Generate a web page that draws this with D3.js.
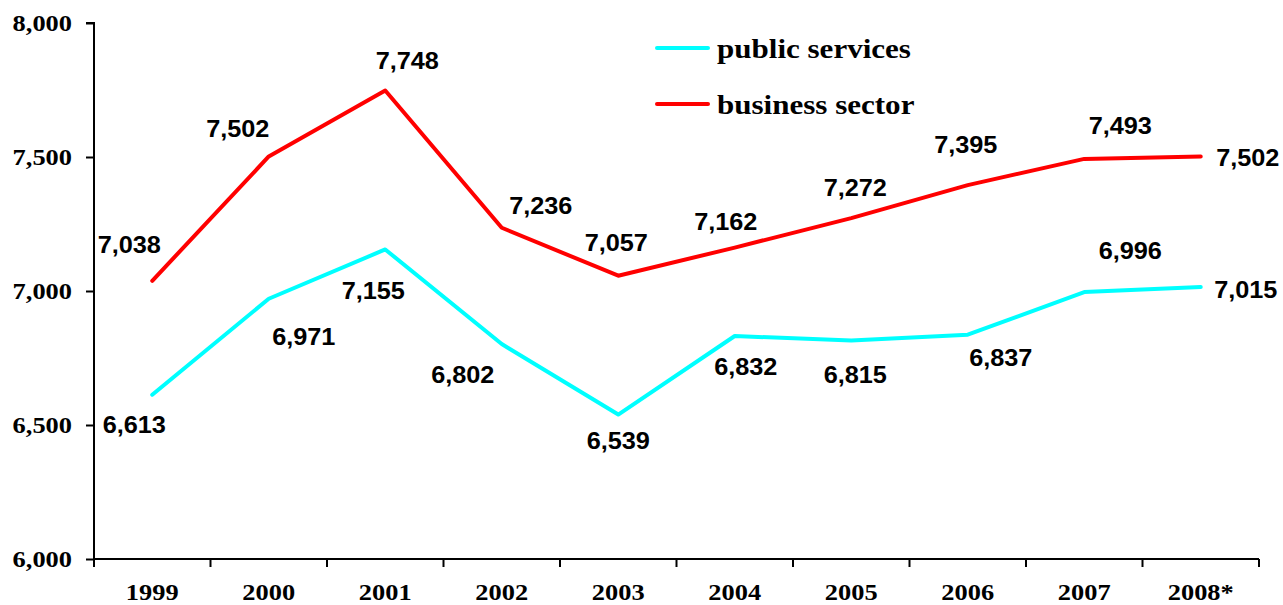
<!DOCTYPE html>
<html>
<head>
<meta charset="utf-8">
<script src="https://cdn.jsdelivr.net/npm/d3@7"></script>
<style>
  html, body { margin: 0; padding: 0; background: #fff; }
  svg { display: block; }
</style>
</head>
<body>
<svg id="chart" width="1283" height="605"></svg>
<script>
// Categories and series
const years = ["1999", "2000", "2001", "2002", "2003", "2004", "2005", "2006", "2007", "2008*"];
const publicServices = [6613, 6971, 7155, 6802, 6539, 6832, 6815, 6837, 6996, 7015];
const businessSector = [7038, 7502, 7748, 7236, 7057, 7162, 7272, 7395, 7493, 7502];
const yTicks = [6000, 6500, 7000, 7500, 8000];

// Label placement relative to each point (dx, dy in px)
const publicLabelOffset = [[-18, 30], [35, 38], [-12, 41], [-39, 31], [0, 26], [11, 31], [4, 34], [33, 23], [46, -41], [45, 3]];
const businessLabelOffset = [[-23, -36], [-31, -28], [22, -30], [39, -22], [-2, -33], [-9, -26], [4, -30], [-2, -40], [36, -33], [47, 1]];

const svg = d3.select("#chart");
const margin = { left: 94, right: 24, top: 23, bottom: 46 };
const W = 1283, H = 605;
const SX = 1.1; // horizontal widening of the type

const serif = "'Liberation Serif', 'Times New Roman', serif";
const sans = "'Liberation Sans', Arial, sans-serif";

const x = d3.scaleBand().domain(years).range([margin.left, W - margin.right]).padding(0);
const y = d3.scaleLinear().domain([6000, 8000]).range([H - margin.bottom, margin.top]);

const fmt = d3.format(",");

// Y axis
const yAxis = svg.append("g")
  .attr("transform", `translate(${margin.left},0)`)
  .call(d3.axisLeft(y).tickValues(yTicks).tickFormat(fmt).tickSize(8).tickPadding(14));
yAxis.select(".domain").attr("stroke", "#000").attr("stroke-width", 2).attr("d", `M-8,${y(8000)}H0V${y(6000)}`);
yAxis.selectAll(".tick line").attr("stroke", "#000").attr("stroke-width", 2);
yAxis.selectAll(".tick text")
  .attr("fill", "#000")
  .attr("x", -22 / SX)
  .attr("transform", `scale(${SX},1)`)
  .style("font-family", serif)
  .style("font-weight", "bold")
  .style("font-size", "24px");

// X axis with ticks at category boundaries
const xAxisG = svg.append("g").attr("transform", `translate(0,${y(6000)})`);
xAxisG.append("line")
  .attr("x1", margin.left).attr("x2", W - margin.right)
  .attr("y1", 0).attr("y2", 0)
  .attr("stroke", "#000").attr("stroke-width", 2);
const bounds = years.map(d => x(d)).concat([x(years[years.length - 1]) + x.bandwidth()]);
xAxisG.selectAll("line.tk").data(bounds).join("line")
  .attr("class", "tk")
  .attr("x1", d => d).attr("x2", d => d)
  .attr("y1", 0).attr("y2", 8)
  .attr("stroke", "#000").attr("stroke-width", 2);
xAxisG.selectAll("text").data(years).join("text")
  .attr("transform", d => `translate(${x(d) + x.bandwidth() / 2},41) scale(${SX},1)`)
  .attr("text-anchor", "middle")
  .style("font-family", serif)
  .style("font-weight", "bold")
  .style("font-size", "24px")
  .text(d => d);

const cx = d => x(d) + x.bandwidth() / 2;

const series = [
  { name: "public services", values: publicServices, color: "#00FFFF", offsets: publicLabelOffset },
  { name: "business sector", values: businessSector, color: "#FF0000", offsets: businessLabelOffset }
];

const line = d3.line().x((d, i) => cx(years[i])).y(d => y(d));

series.forEach(s => {
  svg.append("path")
    .datum(s.values)
    .attr("fill", "none")
    .attr("stroke", s.color)
    .attr("stroke-width", 4)
    .attr("stroke-linejoin", "round")
    .attr("stroke-linecap", "round")
    .attr("d", line);

  svg.append("g").selectAll("text").data(s.values).join("text")
    .attr("transform", (d, i) =>
      `translate(${cx(years[i]) + s.offsets[i][0]},${y(d) + s.offsets[i][1]}) scale(${SX},1)`)
    .attr("text-anchor", "middle")
    .attr("dominant-baseline", "central")
    .style("font-family", sans)
    .style("font-weight", "bold")
    .style("font-size", "23px")
    .attr("fill", "#000")
    .text(d => fmt(d));
});

// Legend
const legend = svg.append("g").attr("transform", "translate(657,48)");
series.forEach((s, i) => {
  const g = legend.append("g").attr("transform", `translate(0,${i * 56})`);
  g.append("line").attr("x1", 0).attr("x2", 51).attr("y1", 0).attr("y2", 0)
    .attr("stroke", s.color).attr("stroke-width", 4).attr("stroke-linecap", "round");
  g.append("text")
    .attr("transform", `translate(60,10) scale(1.15,1)`)
    .style("font-family", serif)
    .style("font-weight", "bold")
    .style("font-size", "27px")
    .text(s.name);
});
</script>
</body>
</html>
